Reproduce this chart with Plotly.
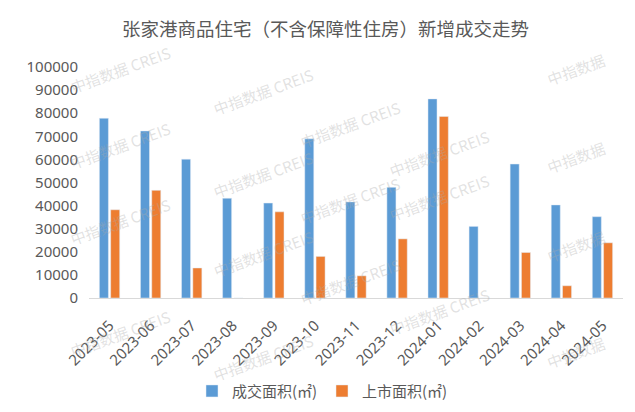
import plotly.graph_objects as go

# monthly data, Zhangjiagang new commodity housing (excl. affordable housing)
months = ["2023-05", "2023-06", "2023-07", "2023-08", "2023-09", "2023-10", "2023-11",
          "2023-12", "2024-01", "2024-02", "2024-03", "2024-04", "2024-05"]
deal_area = [77800, 72300, 60100, 43200, 41100, 68900, 41600,
             47900, 86200, 31000, 58000, 40300, 35200]
supply_area = [38200, 46600, 13000, 0, 37300, 18000, 9600,
               25600, 78600, 0, 19700, 5300, 23900]
y_ticks = [0, 10000, 20000, 30000, 40000, 50000, 60000, 70000, 80000, 90000, 100000]

W, H = 635, 412
L, R, T, B = 81, 20, 59, 115
pw, ph = W - L - R, H - T - B

fig = go.Figure()
fig.add_trace(go.Bar(x=months, y=deal_area, name="成交面积(㎡)", marker_color="#5b9bd5"))
fig.add_trace(go.Bar(x=months, y=supply_area, name="上市面积(㎡)", marker_color="#ed7d31"))

# faint "中指数据 CREIS" watermarks (pixel centres)
marks = [(57, 30), (57, 140), (57, 250), (57, 365),
         (200, 53), (200, 170), (200, 282), (200, 390),
         (342, 87), (342, 197), (342, 311),
         (487, 117), (487, 225), (487, 342)]
side_marks = [(602, 38), (602, 152), (602, 267), (602, 377)]
wm_font = dict(size=15, color="rgba(170,170,170,0.35)", family="Noto Sans CJK SC")
for px, py in marks:
    fig.add_annotation(x=(px - L) / pw, y=(H - B - py) / ph, xref="paper", yref="paper",
                       text="中指数据 CREIS", showarrow=False, textangle=-20, font=wm_font)
for px, py in side_marks:
    fig.add_annotation(x=(px - L) / pw, y=(H - B - py) / ph, xref="paper", yref="paper",
                       text="中指数据", showarrow=False, textangle=-20, font=wm_font)

fig.update_layout(
    width=W, height=H,
    margin=dict(l=L, r=R, t=T, b=B),
    paper_bgcolor="white", plot_bgcolor="white",
    font=dict(family="Noto Sans, Noto Sans CJK SC", color="#595959", size=15),
    title=dict(text="张家港商品住宅（不含保障性住房）新增成交走势",
               x=0.5, xanchor="center", y=1 - 22 / H, yanchor="middle",
               font=dict(size=18.5, color="#595959", family="Noto Sans CJK SC")),
    barmode="group", bargap=0.45, bargroupgap=0.2,
    showlegend=True,
    legend=dict(orientation="h", x=(184 - L) / pw, xanchor="left",
                y=(H - B - 393) / ph, yanchor="middle",
                font=dict(size=15, color="#595959", family="Noto Sans CJK SC"),
                itemwidth=30, tracegroupgap=0, entrywidth=85, entrywidthmode="pixels"),
    xaxis=dict(type="category", tickangle=-45, showline=True, linecolor="#d9d9d9",
               linewidth=1, showgrid=False, ticks="", ticklabelstandoff=12,
               tickfont=dict(size=15)),
    yaxis=dict(range=[0, 100000], tickvals=y_ticks, tickformat="d",
               showgrid=False, zeroline=False, showline=False, ticks="",
               ticklabelstandoff=10, tickfont=dict(size=15)),
)

fig.write_html("out.html")
